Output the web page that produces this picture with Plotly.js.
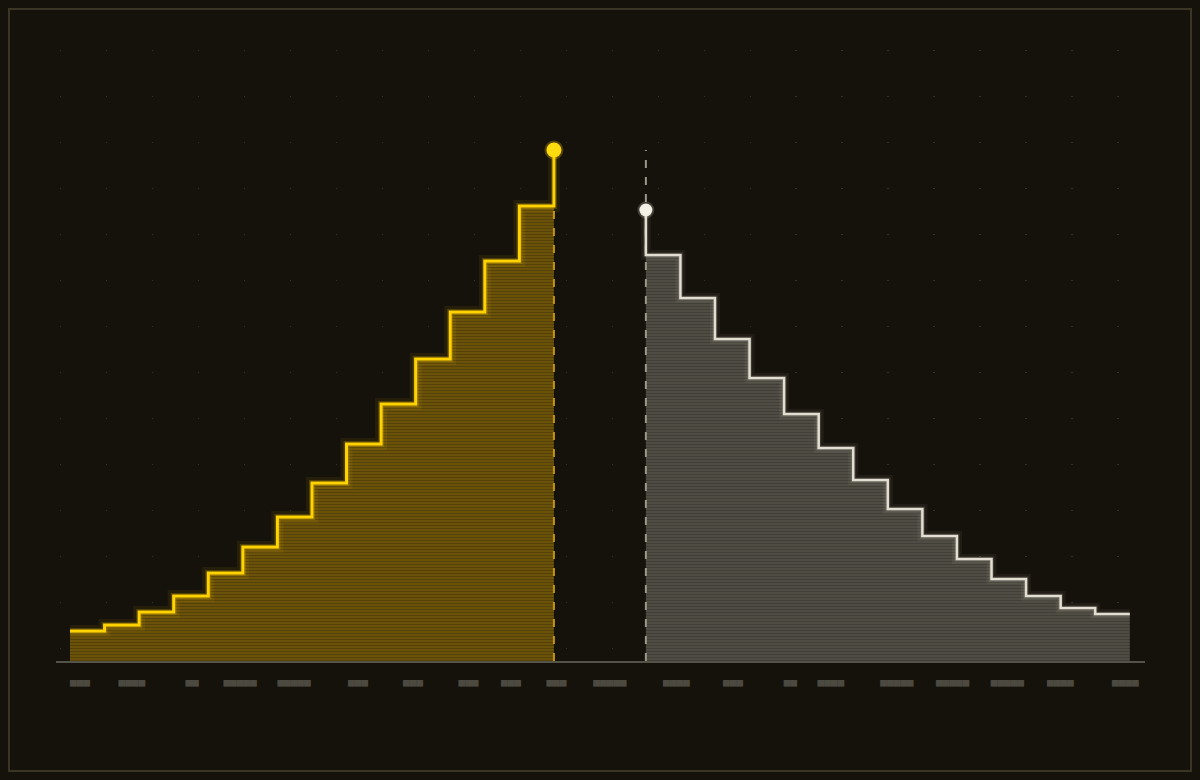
<!DOCTYPE html>
<html>
<head>
<meta charset="utf-8">
<script src="https://cdn.plot.ly/plotly-3.0.1.min.js"></script>
<style>
  html, body { margin: 0; padding: 0; background: #15120b; }
  #wrap { position: relative; width: 1200px; height: 780px; }
  #chart { width: 1200px; height: 780px; }
  #frame {
    position: absolute; left: 8px; top: 8px; width: 1180px; height: 760px;
    border: 2px solid #3a3524; pointer-events: none;
  }
</style>
</head>
<body>
<div id="wrap">
  <div id="chart"></div>
  <div id="frame"></div>
</div>
<script>
// rising run (gold) and falling run (grey), step values
const goldX = [0, 1, 2, 3, 4, 5, 6, 7, 8, 9, 10, 11, 12, 13, 14];
const goldY = [6, 7.2, 9.8, 13, 17.6, 22.8, 28.8, 35.6, 43.4, 51.4, 60.4, 69.8, 80, 91, 102.2];

const greyX = [16.66, 17.66, 18.66, 19.66, 20.66, 21.66, 22.66, 23.66, 24.66, 25.66, 26.66, 27.66, 28.66, 29.66, 30.66];
const greyY = [90.2, 81.2, 72.6, 64.4, 56.6, 49.4, 42.6, 36.2, 30.4, 25, 20.4, 16.4, 13, 10.6, 9.4];

// tick labels are blanked out in the source, drawn as block glyphs
const tickVals = [0.29, 1.79, 3.53, 4.92, 6.48, 8.33, 9.92, 11.53, 12.76, 14.07, 15.62,
                  17.54, 19.18, 20.84, 22.01, 23.92, 25.53, 27.12, 28.65, 30.53];
const tickText = ["▄▄▄", "▄▄▄▄", "▄▄", "▄▄▄▄▄", "▄▄▄▄▄", "▄▄▄", "▄▄▄", "▄▄▄", "▄▄▄", "▄▄▄", "▄▄▄▄▄",
                  "▄▄▄▄", "▄▄▄", "▄▄", "▄▄▄▄", "▄▄▄▄▄", "▄▄▄▄▄", "▄▄▄▄▄", "▄▄▄▄", "▄▄▄▄"];

const gold = "#ffd200";
const grey = "#e2dfd2";

const last = (a) => a[a.length - 1];
const peak = Math.max(...goldY);

const traces = [
  // fills
  {
    x: goldX, y: goldY, type: "scatter", mode: "lines",
    line: { shape: "hv", width: 0, color: gold },
    fill: "tozeroy", fillcolor: "#654d0a",
    fillpattern: { shape: "-", size: 3, solidity: 0.3, fgcolor: "#544007", bgcolor: "#6b520b" },
    hoverinfo: "skip",
  },
  {
    x: greyX, y: greyY, type: "scatter", mode: "lines",
    line: { shape: "vh", width: 0, color: grey },
    fill: "tozeroy", fillcolor: "#4a4840",
    fillpattern: { shape: "-", size: 3, solidity: 0.3, fgcolor: "#3f3d36", bgcolor: "#4e4c43" },
    hoverinfo: "skip",
  },
  // dashed guide lines
  {
    x: [last(goldX), last(goldX)], y: [0, goldY[goldY.length - 2]],
    type: "scatter", mode: "lines",
    line: { color: "#c2950f", width: 2, dash: "8px,9px" }, hoverinfo: "skip",
  },
  {
    x: [greyX[0], greyX[0]], y: [0, peak],
    type: "scatter", mode: "lines",
    line: { color: "#9a978b", width: 2, dash: "8px,9px" }, hoverinfo: "skip",
  },
  // glow
  {
    x: goldX, y: goldY, type: "scatter", mode: "lines",
    line: { shape: "hv", width: 12, color: "rgba(255,200,0,0.07)" }, hoverinfo: "skip",
  },
  {
    x: goldX, y: goldY, type: "scatter", mode: "lines",
    line: { shape: "hv", width: 6, color: "rgba(255,205,0,0.2)" }, hoverinfo: "skip",
  },
  {
    x: greyX, y: greyY, type: "scatter", mode: "lines",
    line: { shape: "vh", width: 10, color: "rgba(230,225,210,0.06)" }, hoverinfo: "skip",
  },
  {
    x: greyX, y: greyY, type: "scatter", mode: "lines",
    line: { shape: "vh", width: 5, color: "rgba(230,225,210,0.14)" }, hoverinfo: "skip",
  },
  // main lines
  {
    x: goldX, y: goldY, type: "scatter", mode: "lines",
    line: { shape: "hv", width: 3, color: gold },
  },
  {
    x: greyX, y: greyY, type: "scatter", mode: "lines",
    line: { shape: "vh", width: 2.5, color: grey },
  },
  // end markers
  {
    x: [last(goldX)], y: [peak], type: "scatter", mode: "markers",
    marker: { size: 15, color: "#ffdc10", line: { width: 4, color: "rgba(255,208,0,0.25)" } },
  },
  {
    x: [greyX[0]], y: [greyY[0]], type: "scatter", mode: "markers",
    marker: { size: 13, color: "#f4f1e6", line: { width: 4, color: "rgba(240,236,225,0.2)" } },
  },
];

const layout = {
  width: 1200, height: 780,
  paper_bgcolor: "#15120b", plot_bgcolor: "#15120b",
  margin: { l: 56, r: 55, t: 50, b: 119 },
  showlegend: false,
  xaxis: {
    range: [-0.405, 31.1],
    showline: true, linecolor: "#55524a", linewidth: 2,
    zeroline: false, showgrid: false, ticks: "",
    tickmode: "array", tickvals: tickVals, ticktext: tickText,
    tickfont: { family: "DejaVu Sans Mono", size: 11, color: "#4c4a40" },
    ticklabelstandoff: 8,
    minor: {
      tickmode: "linear", tick0: 1.06, dtick: 1.33,
      showgrid: true, gridcolor: "rgba(95,90,72,0.45)", gridwidth: 1.5, griddash: "1px,45px",
      ticks: "",
    },
    fixedrange: true,
  },
  yaxis: {
    range: [0, 122.2],
    showgrid: false, zeroline: false, showticklabels: false, showline: false,
    fixedrange: true,
  },
};

Plotly.newPlot("chart", traces, layout, { staticPlot: true });
</script>
</body>
</html>
